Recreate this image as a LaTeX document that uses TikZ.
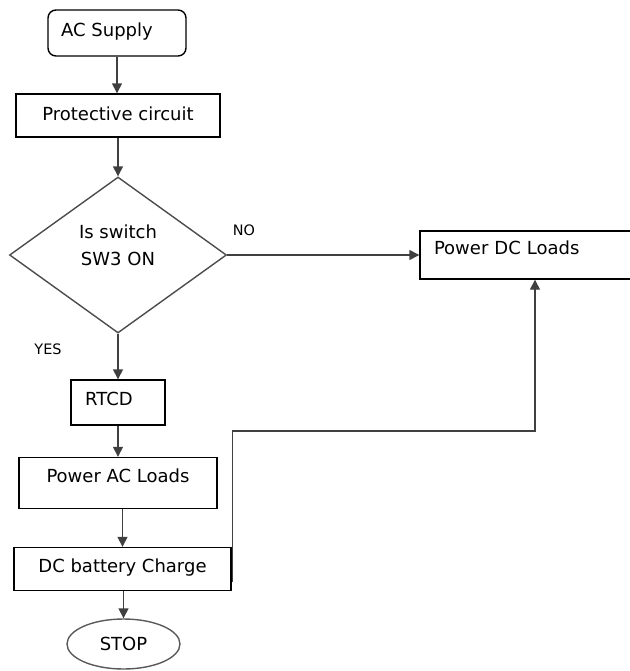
\documentclass[tikz,border=0pt]{standalone}
\usepackage{fontspec}
\setmainfont{DejaVu Sans}
\usepackage{tikz}
\usetikzlibrary{shapes.geometric}
\usetikzlibrary{arrows.meta}

\begin{document}
\begin{tikzpicture}[
					x=0.5pt, y=-0.5pt,
					>={Triangle[length=5pt,width=5pt]},
					boxnode/.style={rectangle, draw=black, line width=0.7pt, inner sep=0pt, text height=6.7pt, text depth=2pt, font=\fontsize{9}{13.3}\selectfont},
					startnode/.style={boxnode, rounded corners=4pt},
					decnode/.style={diamond, draw=black!70, line width=0.7pt, inner sep=0pt, align=center, font=\fontsize{9}{13.3}\selectfont},
					endnode/.style={ellipse, draw=black!65, line width=0.7pt, inner sep=0pt, text height=6.7pt, text depth=0.2pt, font=\fontsize{9}{13.3}\selectfont},
					smalltext/.style={inner sep=0pt, font=\fontsize{7.2}{8}\selectfont},
					line/.style={draw=black!75, line width=0.7pt},
					]
					\useasboundingbox (0,0) rectangle (629,671);
					%Nodes
					\node[startnode, minimum width=69pt, minimum height=23pt, text depth=3.7pt]      (supply) 	at 	(117,33)      {AC Supply\hspace*{10pt}};
					\node[boxnode, minimum width=102pt, minimum height=21.5pt, text depth=2.2pt]     (protect) 	at 	(118,115.5)   {Protective circuit};
					\node[decnode, minimum width=108.5pt, minimum height=78pt]      (dec) 	at 	(118,255)     {Is switch\\SW3 ON\rule[-9.8pt]{0pt}{9.8pt}};
					\node[boxnode, minimum width=106.5pt, minimum height=24pt, text depth=7.2pt, text width=92.5pt, inner xsep=7pt, align=left]      (dcload) 	at 	(526.5,255)   {Power DC Loads};
					\node[boxnode, minimum width=47pt, minimum height=22.5pt, text depth=4.2pt]      (rtcd) 	at 	(118,402.5)   {RTCD\hspace*{9pt}};
					\node[boxnode, minimum width=99pt, minimum height=25.5pt, text depth=7.2pt]      (acload) 	at 	(118,483)     {Power AC Loads};
					\node[boxnode, minimum width=108.5pt, minimum height=21.5pt, text depth=3.7pt]   (charge) 	at 	(122.5,569)   {DC battery Charge};
					\node[endnode, minimum width=56.5pt, minimum height=25pt]      (stop) 	at 	(123.5,644)   {STOP};
					\node[smalltext]      (no) 	at 	(244,230.5)   {NO};
					\node[smalltext]      (yes) 	at 	(48,349.5)    {YES};
					\coordinate (fb) at (232.5,582);
					\coordinate (turn) at (535,431);

					%Lines
					\draw[line,->] (supply.south) -- (supply.south |- protect.north);
					\draw[line,->] (protect.south) -- (dec.north);
					\draw[line,->] (dec.east) -- (dcload.west);
					\draw[line,->] (dec.south) -- (rtcd.north);
					\draw[line,->] (rtcd.south) -- (acload.north);
					\draw[line,->] (acload.south -| charge.north) -- (charge.north);
					\draw[line,->] (charge.south -| stop.north) -- (stop.north);
					\draw[line,->] (fb) |- (turn) -- (turn |- dcload.south);
				\end{tikzpicture}
\end{document}
